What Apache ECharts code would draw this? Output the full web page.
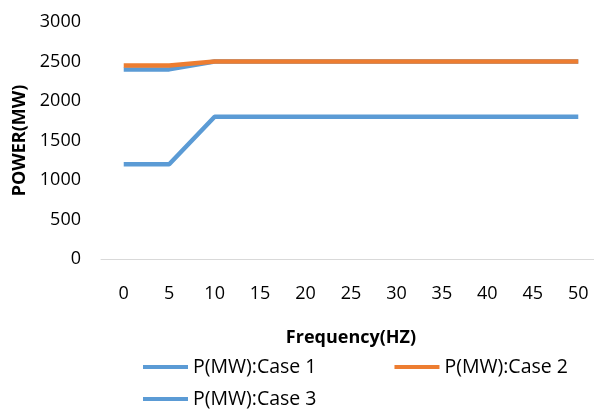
<!DOCTYPE html>
<html><head><meta charset="utf-8">
<script src="https://cdn.jsdelivr.net/npm/echarts@6/dist/echarts.min.js"></script>
<style>html,body{margin:0;padding:0;background:#fff}#c{width:594px;height:410px}</style>
</head><body><div id="c"></div>
<script>
const categories = ['0','5','10','15','20','25','30','35','40','45','50'];
const case1 = [1200,1200,1800,1800,1800,1800,1800,1800,1800,1800,1800];
const case2 = [2450,2450,2500,2500,2500,2500,2500,2500,2500,2500,2500];
const case3 = [2400,2400,2500,2500,2500,2500,2500,2500,2500,2500,2500];
const names = ['P(MW):Case 1','P(MW):Case 2','P(MW):Case 3'];
const FONT = 'Open Sans';
const chart = echarts.init(document.getElementById('c'));
const txt = {fontFamily: FONT, fontSize: 18, color: '#000'};
const ltxt = {fontFamily: FONT, fontSize: 19.5, color: '#000'};
chart.setOption({
  animation: false,
  grid: {left: 101, width: 500, top: 22, height: 237, outerBoundsMode: 'none', containLabel: false},
  legend: [
    {data: [names[0], names[1]], left: 143, top: 357, padding: 0, itemWidth: 45, itemHeight: 4, itemGap: 78, icon: 'rect', textStyle: ltxt},
    {data: [names[2]], left: 143, top: 389, padding: 0, itemWidth: 45, itemHeight: 4, icon: 'rect', textStyle: ltxt}
  ],
  xAxis: {
    type: 'category', data: categories, boundaryGap: true,
    axisLine: {lineStyle: {color: '#D9D9D9', width: 1}},
    axisTick: {show: false},
    axisLabel: {...txt, margin: 26},
    name: 'Frequency(HZ)', nameLocation: 'middle', nameGap: 70,
    nameTextStyle: {...txt, fontWeight: 'bold'}
  },
  yAxis: {
    type: 'value', min: 0, max: 3000, interval: 500,
    axisLine: {show: false}, axisTick: {show: false}, splitLine: {show: false},
    axisLabel: {...txt, margin: 20, formatter: v => String(v)},
    name: 'POWER(MW)', nameLocation: 'middle', nameGap: 63,
    nameTextStyle: {...txt, fontWeight: 'bold'}
  },
  series: [
    {name: names[0], type: 'line', data: case1, symbol: 'none', lineStyle: {width: 4.5, color: '#5B9BD5'}, itemStyle: {color: '#5B9BD5'}, z: 2},
    {name: names[1], type: 'line', data: case2, symbol: 'none', lineStyle: {width: 4.5, color: '#ED7D31'}, itemStyle: {color: '#ED7D31'}, z: 4},
    {name: names[2], type: 'line', data: case3, symbol: 'none', lineStyle: {width: 4.5, color: '#5B9BD5'}, itemStyle: {color: '#5B9BD5'}, z: 3}
  ]
});
</script></body></html>
